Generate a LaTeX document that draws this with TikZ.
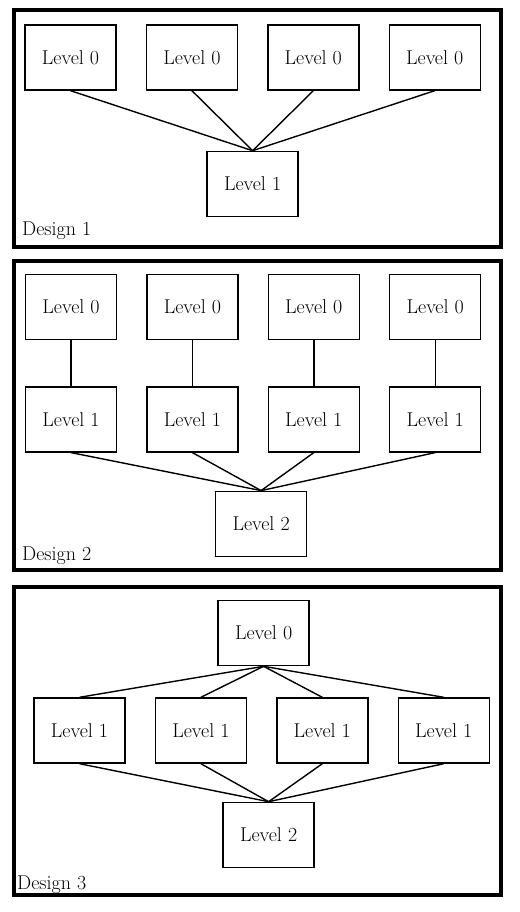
\documentclass[tikz,border=0pt]{standalone}
\usetikzlibrary{positioning,calc}

\begin{document}
\begin{tikzpicture}[x=1pt, y=-1pt,
      font=\fontsize{20}{22}\selectfont,
      caja/.style={draw, line width=1.4pt, minimum width=91pt, minimum height=65pt,
                   inner sep=0pt},
      marco/.style={line width=3.6pt},
      rotulo/.style={anchor=base west, inner sep=0pt},
      linea/.style={line width=1.4pt},
    ]
    \useasboundingbox (0,0) rectangle (519,912);

    % =============== DISEÑO 1 ============================================
    \node[caja] (a0a) at (70.5,57.5) {Level 0};
    \node[caja, right=29pt of a0a] (a0b) {Level 0};
    \node[caja, right=29pt of a0b] (a0c) {Level 0};
    \node[caja, right=29pt of a0c] (a0d) {Level 0};
    \coordinate (amed) at ($(a0b.south)!0.5!(a0c.south)$);
    \node[caja, below=60pt of amed, anchor=north] (a1) {Level 1};

    \foreach \n in {a0a,a0b,a0c,a0d}
      \draw[linea] (\n.south) -- (a1.north);

    \draw[marco] (14,10) rectangle (501,247);
    \node[rotulo] (d1) at (22,235) {Design 1};

    % =============== DISEÑO 2 ============================================
    \node[caja] (b0a) at (71,307) {Level 0};
    \node[caja, right=29pt of b0a] (b0b) {Level 0};
    \node[caja, right=29pt of b0b] (b0c) {Level 0};
    \node[caja, right=29pt of b0c] (b0d) {Level 0};

    \node[caja, below=46pt of b0a] (b1a) {Level 1};
    \node[caja, below=46pt of b0b] (b1b) {Level 1};
    \node[caja, below=46pt of b0c] (b1c) {Level 1};
    \node[caja, below=46pt of b0d] (b1d) {Level 1};

    \coordinate (bmed) at ($(b1b.south)!0.5!(b1c.south)+(8,0)$);
    \node[caja, below=38pt of bmed, anchor=north] (b2) {Level 2};

    \foreach \x in {a,b,c,d}{
      \draw[linea] (b0\x) -- (b1\x);
      \draw[linea] (b1\x.south) -- (b2.north);
    }

    \draw[marco] (14,261) rectangle (501,570);
    \node[rotulo] (d2) at (22,560) {Design 2};

    % =============== DISEÑO 3 ============================================
    \node[caja] (c1a) at (79.5,730.5) {Level 1};
    \node[caja, right=29pt of c1a] (c1b) {Level 1};
    \node[caja, right=29pt of c1b] (c1c) {Level 1};
    \node[caja, right=29pt of c1c] (c1d) {Level 1};

    \coordinate (cmed) at ($(c1b.north)!0.5!(c1c.north)+(2,0)$);
    \node[caja, above=31pt of cmed, anchor=south] (c0) {Level 0};
    \coordinate (cmed2) at ($(c1b.south)!0.5!(c1c.south)+(7,0)$);
    \node[caja, below=38pt of cmed2, anchor=north] (c2) {Level 2};

    \foreach \x in {a,b,c,d}{
      \draw[linea] (c0.south) -- (c1\x.north);
      \draw[linea] (c1\x.south) -- (c2.north);
    }

    \draw[marco] (14,587) rectangle (501,895);
    \node[rotulo] (d3) at (17,889) {Design 3};
\end{tikzpicture}
\end{document}
